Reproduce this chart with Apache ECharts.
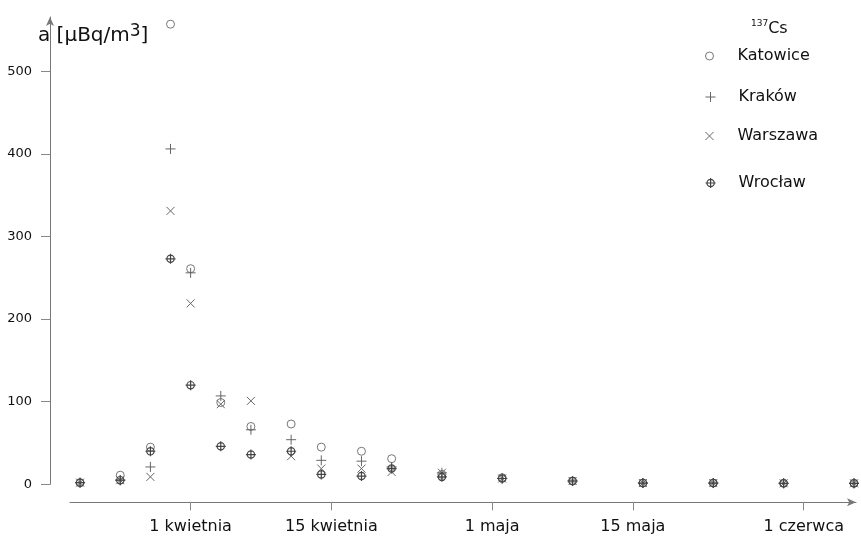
<!DOCTYPE html>
<html>
<head>
<meta charset="utf-8">
<script src="https://cdn.jsdelivr.net/npm/echarts@6/dist/echarts.min.js"></script>
<style>
html,body{margin:0;padding:0;background:#fff;}
#c{width:861px;height:536px;}
</style>
</head>
<body>
<div id="c"></div>
<script>
// ---- data ----
const dates = ['2011-03-21','2011-03-25','2011-03-28','2011-03-30','2011-04-01','2011-04-04','2011-04-07','2011-04-11','2011-04-14','2011-04-18','2011-04-21','2011-04-26','2011-05-02','2011-05-09','2011-05-16','2011-05-23','2011-05-30','2011-06-06'];
const katowice = [2, 11, 45, 557, 261, 99, 70, 73, 45, 40, 31, 12, 8, 4, 1.5, 1.5, 1.2, 1.2];
const krakow   = [2, 5, 21, 406, 256, 107, 66, 54, 29, 28, 21, 14, 7, 4, 1.5, 1.5, 1.2, 1.2];
const warszawa = [2, 5, 9, 331, 219, 97, 101, 34, 19, 19, 15, 14, 7, 4, 1.5, 1.5, 1.2, 1.2];
const wroclaw  = [2, 5, 40, 273, 120, 46, 36, 40, 12, 10, 19, 9, 7, 4, 1.5, 1.5, 1.2, 1.2];
const seriesNames = ['Katowice','Kraków','Warszawa','Wrocław'];
const xTickDates = ['2011-04-01','2011-04-15','2011-05-01','2011-05-15','2011-06-01'];
const xTickLabels = ['1 kwietnia','15 kwietnia','1 maja','15 maja','1 czerwca'];
const yTicks = [0, 100, 200, 300, 400, 500];

function ts(s){ const p = s.split('-').map(Number); return Date.UTC(p[0], p[1]-1, p[2]); }
const DAY = 864e5;
const xMin = ts('2011-03-20');
const xMax = xMin + 78.2 * DAY;
const xTickTs = xTickDates.map(ts);

const FONT = 'DejaVu Sans';
const symCircle = 'path://M0,5A5,5,0,1,0,10,5A5,5,0,1,0,0,5Z';
const symPlus = 'path://M5,0V10M0,5H10';
const symCross = 'path://M0,0L10,10M10,0L0,10';
const symWro = 'path://M1.6,6A4.4,4.4,0,1,0,10.4,6A4.4,4.4,0,1,0,1.6,6ZM6,0V12M0,6H12';

const vals = [katowice, krakow, warszawa, wroclaw];
const syms = [symCircle, symPlus, symCross, symWro];
const sizes = [8, 10, 8, 10];
const cols = ['#777', '#666', '#666', '#444'];
const widths = [1, 1, 1, 1.2];

const series = seriesNames.map((n, k) => ({
  name: n,
  type: 'scatter',
  clip: false,
  symbol: syms[k],
  symbolSize: sizes[k],
  itemStyle: { color: 'rgba(0,0,0,0)', borderColor: cols[k], borderWidth: widths[k], opacity: 1 },
  emphasis: { disabled: true },
  data: dates.map((d, i) => [ts(d), vals[k][i]])
}));

const legendCenters = [53, 94, 133, 180];
const legends = seriesNames.map((n, k) => ({
  data: [n],
  orient: 'vertical',
  left: 700,
  top: legendCenters[k] - 10,
  itemWidth: 46,
  itemHeight: sizes[k],
  itemStyle: { borderWidth: widths[k] },
  textStyle: { fontFamily: FONT, fontSize: 16, color: '#111' },
  selectedMode: false
}));

const chart = echarts.init(document.getElementById('c'), null, { renderer: 'canvas' });
chart.setOption({
  animation: false,
  backgroundColor: '#fff',
  title: [
    {
      text: '{a|a [μBq/m}{s|3}{a|]}',
      left: 33, top: 18,
      textStyle: { fontWeight: 'normal', rich: {
        a: { fontFamily: FONT, fontSize: 20, fontWeight: 'normal', color: '#111', lineHeight: 26 },
        s: { fontFamily: FONT, fontSize: 17, fontWeight: 'normal', color: '#111', verticalAlign: 'top', lineHeight: 26 }
      } }
    },
    {
      text: '{s|137}{c|Cs}',
      left: 746, top: 14,
      textStyle: { fontWeight: 'normal', rich: {
        s: { fontFamily: FONT, fontSize: 9, fontWeight: 'normal', color: '#111', verticalAlign: 'top', lineHeight: 20 },
        c: { fontFamily: FONT, fontSize: 16, fontWeight: 'normal', color: '#111', lineHeight: 20 }
      } }
    }
  ],
  legend: legends,
  grid: { left: 70, right: 5, top: 17, bottom: 51.7, containLabel: false },
  xAxis: {
    type: 'value',
    min: xMin, max: xMax,
    offset: 18,
    splitLine: { show: false },
    axisLine: { show: true, onZero: false, lineStyle: { color: '#777', width: 1 }, symbol: ['none', 'arrow'], symbolSize: [6, 9] },
    axisTick: { show: true, length: 8, lineStyle: { color: '#888' }, customValues: xTickTs },
    axisLabel: {
      customValues: xTickTs,
      margin: 17,
      fontFamily: FONT, fontSize: 16, color: '#111',
      formatter: function (v) { const i = xTickTs.indexOf(v); return i >= 0 ? xTickLabels[i] : ''; }
    }
  },
  yAxis: {
    type: 'value',
    min: 0, max: 565.7,
    offset: 20,
    splitLine: { show: false },
    axisLine: { show: true, onZero: false, lineStyle: { color: '#777', width: 1 }, symbol: ['none', 'arrow'], symbolSize: [6, 9] },
    axisTick: { show: true, length: 9, lineStyle: { color: '#888' }, customValues: yTicks },
    axisLabel: { customValues: yTicks, margin: 18, fontFamily: FONT, fontSize: 13, color: '#111' }
  },
  series: series
});
</script>
</body>
</html>
